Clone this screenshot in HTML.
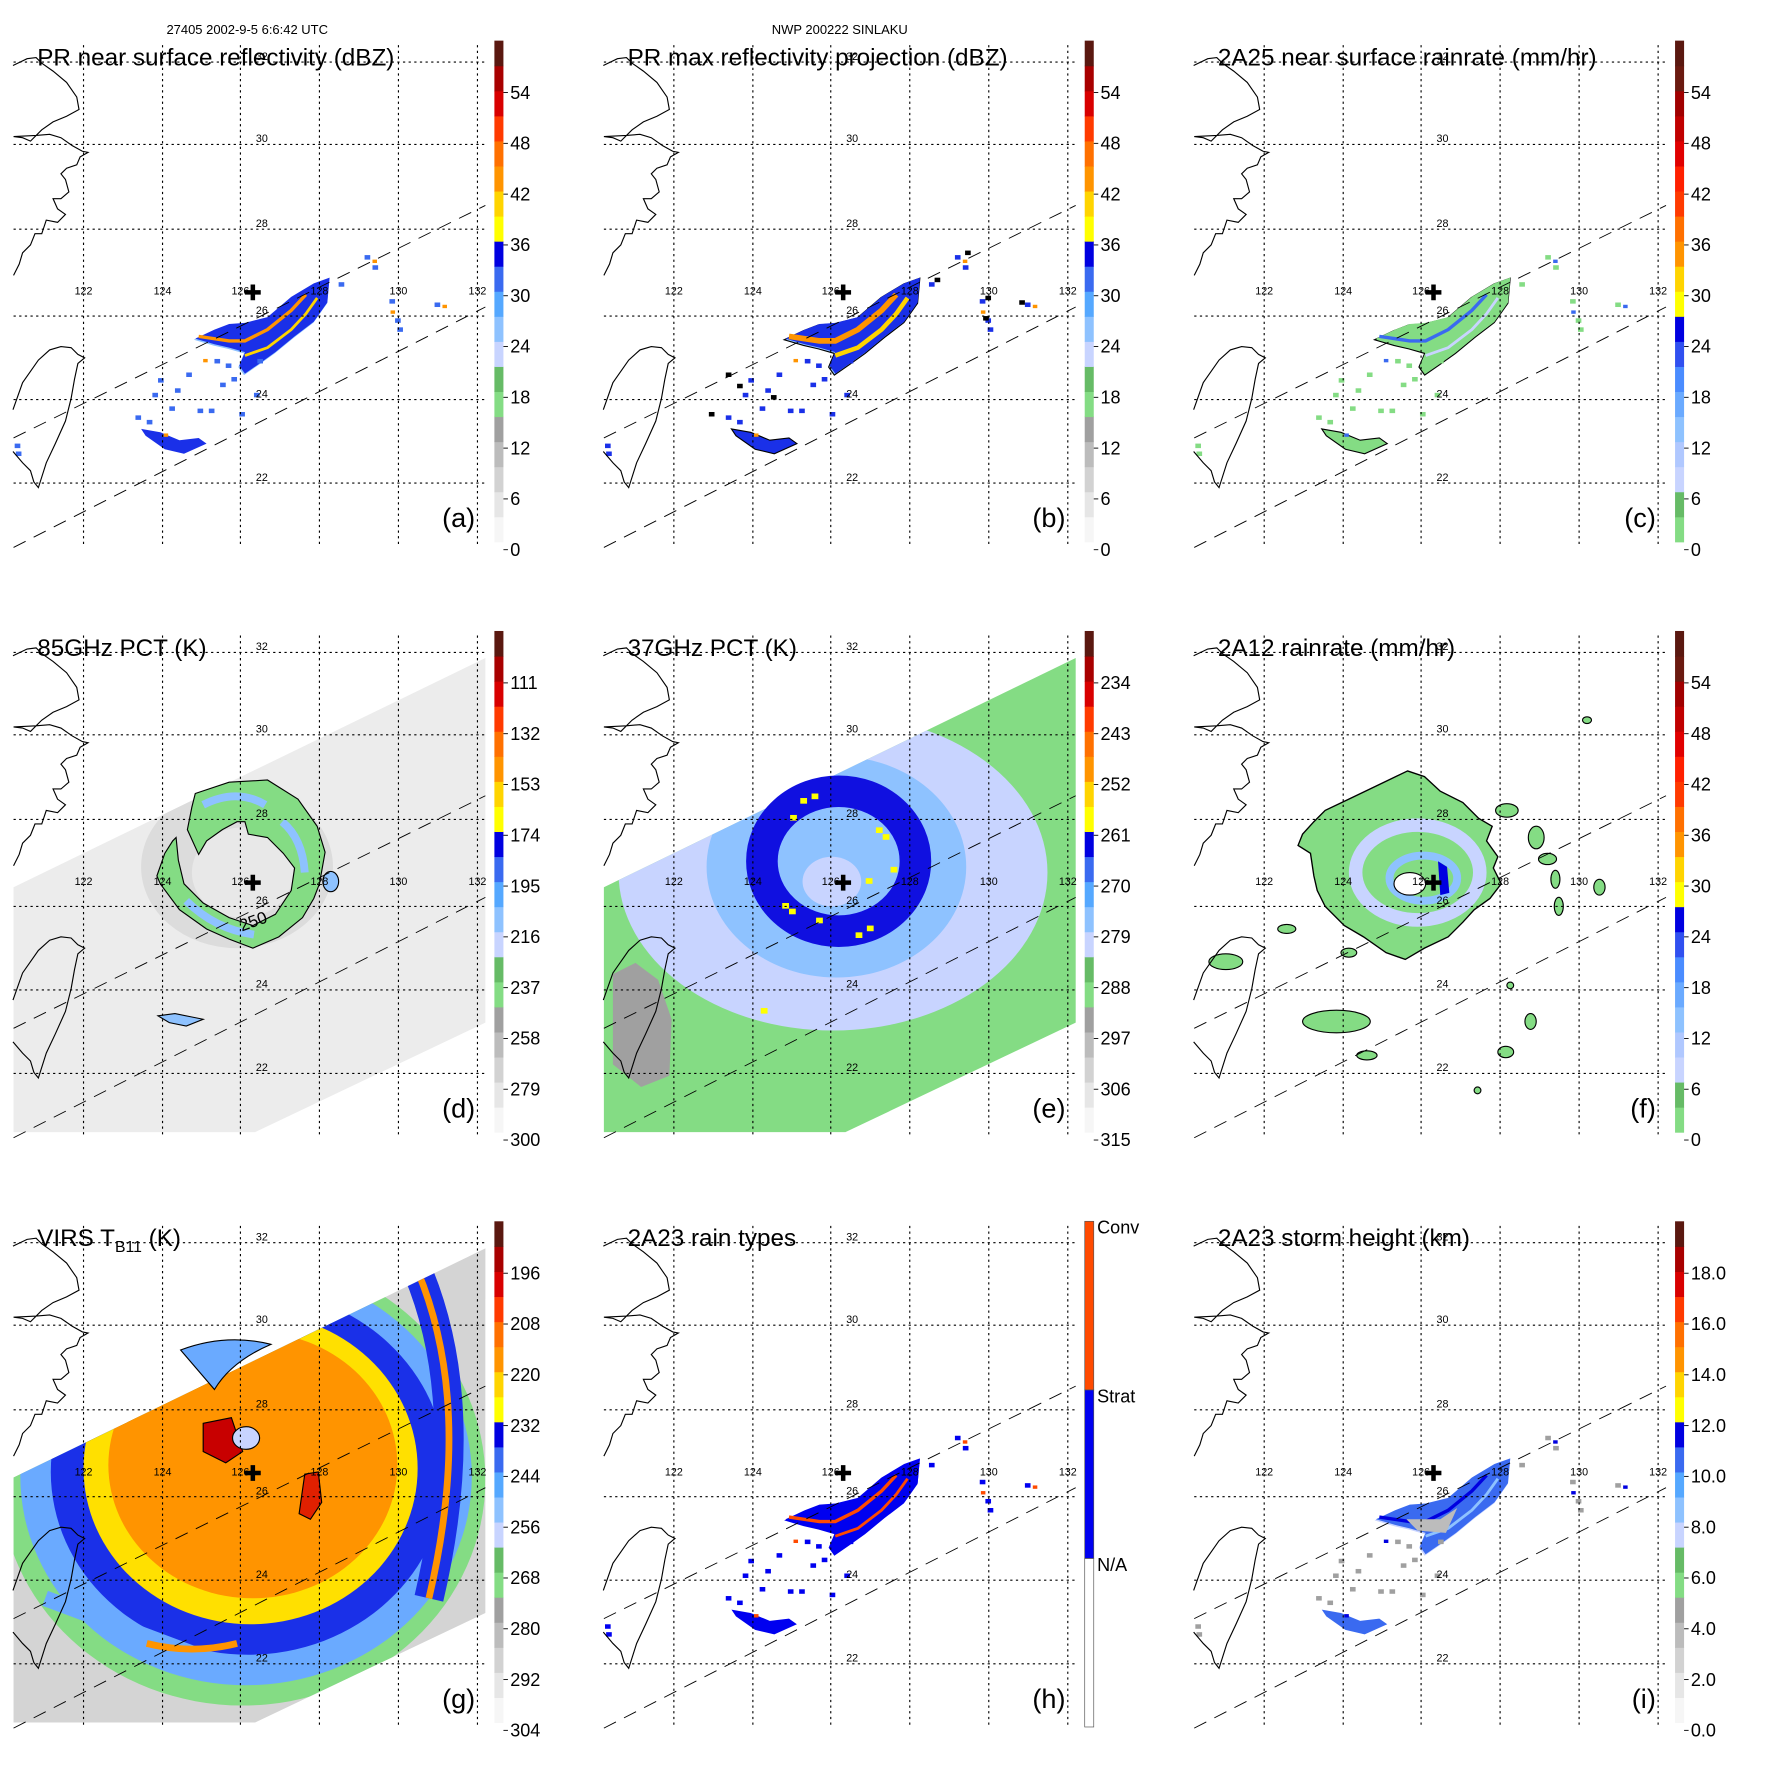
<!DOCTYPE html>
<html><head><meta charset="utf-8"><title>SINLAKU TRMM panels</title>
<style>html,body{margin:0;padding:0;background:#fff}svg{display:block}text{font-family:"Liberation Sans",sans-serif}</style>
</head><body>
<svg id="fig" xmlns="http://www.w3.org/2000/svg" width="1771" height="1771" viewBox="0 0 1569 1569">
<rect x="0" y="0" width="1569" height="1569" fill="#fff"/>
<defs><clipPath id="swclip"><path d="M12,263 L430,60 L430,383 L226,480 L12,480 Z"/></clipPath></defs>
<text x="219" y="30" font-size="11.5" text-anchor="middle">27405 2002-9-5 6:6:42 UTC</text>
<text x="744" y="30" font-size="11.5" text-anchor="middle">NWP 200222 SINLAKU</text>
</svg>
<script>
// ---- colorbar data ----
const paletteStd = ['#f6f6f6','#e6e6e6','#d2d2d2','#bcbcbc','#a0a0a0','#84dc84','#66bb66','#c8d4ff','#8ec2ff','#55a8ff','#3a6af0','#0000e0','#ffff00','#ffd400','#ff9400','#ff7000','#ff3a00','#d80000','#a80000','#5a1810'];
const paletteRain = ['#84dc84','#66bb66','#c8d4ff','#b0c8ff','#8ec2ff','#6aaaff','#4a8cff','#3050f0','#0000e0','#ffff00','#ffd400','#ff9400','#ff7000','#ff3a00','#ff2000','#e00000','#c00000','#a00000','#6a1a10','#5a1810'];
const ticksA = ['0','6','12','18','24','30','36','42','48','54'];
const ticksD = ['300','279','258','237','216','195','174','153','132','111'];
const ticksE = ['315','306','297','288','279','270','261','252','243','234'];
const ticksG = ['304','292','280','268','256','244','232','220','208','196'];
const ticksI = ['0.0','2.0','4.0','6.0','8.0','10.0','12.0','14.0','16.0','18.0'];
const rainTypeLabels = ['N/A','Strat','Conv'];
const rainTypeColors = ['#ffffff','#0000f0','#ff4a00'];
const lonLabels = ['122','124','126','128','130','132'];
const latLabels = ['32','30','28','26','24','22'];
</script>
<script>
const NS='http://www.w3.org/2000/svg';
const fig=document.getElementById('fig');
function mk(tag,attrs,parent){const e=document.createElementNS(NS,tag);for(const k in attrs)e.setAttribute(k,attrs[k]);(parent||fig).appendChild(e);return e;}
const lonX=[74,144,213,283,353,423];
const latY=[55,128,203,280,354,428];
const CHINA='M11.5,58 L24,52 L32,51 L37,56 L47,63 L59,73 L68,86 L70,97 L59,103 L47,108 L37,115 L27,125 L20,122 L12,121 M12,121 L32,120 L44,119 L54,122 L64,129 L73,134 L78,135 L71,139 L68,146 L59,149 L54,154 L58,159 L61,170 L54,176 L47,176 L51,185 L58,190 L51,197 L41,195 L37,207 L31,207 L27,217 L20,224 L17,234 L12,244';
const TAIWAN='M11.5,363 L20,339 L34,319 L44,310 L54,307 L63,308 L69,314 L75,317 L69,322 L66,336 L63,353 L58,373 L49,393 L41,410 L34,432 L30,427 L27,417 L20,410 L11.5,400';
const SWATH='M12,263 L430,60 L430,383 L226,480 L12,480 Z';
const BAND='M173,300 L190,292 L203,287 L217,286 L237,281 L258,263 L278,251 L292,246 L290,268 L278,285 L261,298 L244,312 L230,322 L217,331 L212,324 L217,312 L203,308 L190,305 Z';
const LOWER='M125,380 L142,383 L159,390 L176,388 L183,393 L163,402 L146,398 L129,386 Z';
const STRIPE1='M176,298 L203,302 L217,302 L237,292 L258,275 L271,261';
const STRIPE2='M217,315 L237,308 L258,292 L271,278 L281,264';
const SPIRAL='M173,180 L203,170 L237,168 L264,185 L281,209 L288,232 L283,260 L278,273 L268,290 L247,307 L224,317 L203,309 L183,300 L159,283 L142,260 L139,253 L146,233 L153,222 L156,219 L158,239 L163,260 L180,277 L203,290 L224,297 L244,287 L258,266 L261,246 L251,233 L237,219 L220,216 L217,205 L210,205 L197,212 L183,222 L176,234 L166,212 L170,192 Z';
const FBLOB='M201,160 L216,165 L230,178 L250,188 L264,202 L276,209 L271,222 L281,236 L277,246 L284,260 L274,273 L260,283 L250,294 L237,307 L216,317 L199,327 L182,321 L162,307 L145,297 L128,280 L121,266 L118,253 L115,233 L104,226 L108,216 L118,205 L128,195 L149,185 L176,172 Z';

const panels=[
 {id:'a',title:'PR near surface reflectivity (dBZ)',ticks:ticksA,pal:paletteStd},
 {id:'b',title:'PR max reflectivity projection (dBZ)',ticks:ticksA,pal:paletteStd},
 {id:'c',title:'2A25 near surface rainrate (mm/hr)',ticks:ticksA,pal:paletteRain},
 {id:'d',title:'85GHz PCT (K)',ticks:ticksD,pal:paletteStd},
 {id:'e',title:'37GHz PCT (K)',ticks:ticksE,pal:paletteStd},
 {id:'f',title:'2A12 rainrate (mm/hr)',ticks:ticksA,pal:paletteRain},
 {id:'g',title:'VIRS T',ticks:ticksG,pal:paletteStd},
 {id:'h',title:'2A23 rain types',ticks:null,pal:null},
 {id:'i',title:'2A23 storm height (km)',ticks:ticksI,pal:paletteStd}
];

function dots(g,list,color,w,h){list.forEach(p=>{const r=mk('rect',{x:p[0],y:p[1],width:w||4,height:h||3,fill:color},g);});}

function drawData(id,g){
 let e;
 if(id==='a'||id==='b'||id==='c'||id==='h'||id==='i'){
  const fills={a:['#8ec2ff','#1a30e8'],b:['#8ec2ff','#1a30e8'],c:['#84dc84','#84dc84'],h:['#0000f0','#0000f0'],i:['#c8d4ff','#3a6af0']}[id];
  e=mk('path',{d:BAND,fill:fills[0],transform:'translate(-3,-2) scale(1.01)',stroke:(id==='b'||id==='c')?'#000':'none','stroke-width':1},g);
  
  e=mk('path',{d:BAND,fill:fills[1]},g);
  
  e=mk('path',{d:LOWER,fill:fills[1],stroke:(id==='b'||id==='c')?'#000':'none','stroke-width':1},g);
  
  const s1={a:'#ff9400',b:'#ff9400',c:'#3a6af0',h:'#ff4a00',i:'#0000e0'}[id];
  const s2={a:'#ffd400',b:'#ffd400',c:'#c8d4ff',h:'#ff4a00',i:'#8ec2ff'}[id];
  e=mk('path',{d:STRIPE1,fill:'none',stroke:s1,'stroke-width':id==='b'?5:3},g);
  
  e=mk('path',{d:STRIPE2,fill:'none',stroke:s2,'stroke-width':id==='b'?4:2.5},g);
  
  if(id==='i'){e=mk('path',{d:'M200,300 L230,300 L245,290 L235,312 L210,310Z',fill:'#bcbcbc'},g);}
  const sc={a:'#3a6af0',b:'#1a30e8',c:'#84dc84',h:'#0000f0',i:'#a0a0a0'}[id];
  dots(g,[[165,330],[190,318],[200,322],[228,318],[140,335],[135,348],[150,360],[175,362],[185,362],[120,368],[130,372],[155,344],[195,339],[205,334],[330,235],[345,265],[350,282],[352,290],[385,268],[300,250],[323,226],[13,393],[14,400],[225,348],[212,365]],sc,5,4);
  dots(g,[[330,230],[346,275],[392,270],[180,318],[145,384]],s1,4,3);
  if(id==='b'){dots(g,[[332,222],[350,262],[348,280],[380,266],[305,246],[120,330],[130,340],[160,350],[105,365]],'#000',5,4);}
 }
 if(id==='d'||id==='e'||id==='g'){
  const bg={d:'#ececec',e:'#84dc84',g:'#d4d4d4'}[id];
  e=mk('path',{d:SWATH,fill:bg},g);
 }
 if(id==='d'){
  e=mk('ellipse',{cx:210,cy:245,rx:85,ry:72,fill:'#dcdcdc','clip-path':'url(#swclip)'},g);
  e=mk('ellipse',{cx:215,cy:250,rx:45,ry:40,fill:'#e8e8e8'},g);
  e=mk('path',{d:SPIRAL,fill:'#84dc84',stroke:'#000','stroke-width':1},g);
  e=mk('path',{d:'M180,190 Q210,175 235,190 M250,205 Q268,220 270,250 M165,275 Q190,300 225,305',fill:'none',stroke:'#8ec2ff','stroke-width':7},g);
  e=mk('path',{d:'M140,377 L155,375 L170,378 L180,380 L165,386 L150,383Z',fill:'#8ec2ff',stroke:'#000','stroke-width':1},g);
  e=mk('ellipse',{cx:293,cy:258,rx:7,ry:9,fill:'#8ec2ff',stroke:'#000','stroke-width':1},g);
  e=mk('text',{x:226,y:298,'font-size':15,transform:'rotate(-20 226 298)','text-anchor':'middle'},g);e.textContent='250';
 }
 if(id==='e'){
  e=mk('ellipse',{cx:215,cy:250,rx:190,ry:140,fill:'#c8d4ff','clip-path':'url(#swclip)'},g);
  e=mk('ellipse',{cx:218,cy:245,rx:115,ry:98,fill:'#8ec2ff','clip-path':'url(#swclip)'},g);
  e=mk('ellipse',{cx:220,cy:240,rx:68,ry:62,fill:'none',stroke:'#1010e0','stroke-width':28},g);
  e=mk('ellipse',{cx:214,cy:258,rx:26,ry:22,fill:'#c8d4ff'},g);
  e=mk('path',{d:'M20,340 L40,330 L60,345 L72,380 L70,430 L45,440 L20,420Z',fill:'#a0a0a0','clip-path':'url(#swclip)'},g);
  dots(g,[[186,184],[196,180],[177,199],[253,210],[259,216],[170,277],[176,282],[200,290],[245,297],[235,303],[266,245],[244,255],[151,370]],'#ffff00',6,5);
 }
 if(id==='f'){
  e=mk('path',{d:FBLOB,fill:'#84dc84',stroke:'#000','stroke-width':1.2},g);
  e=mk('ellipse',{cx:210,cy:250,rx:55,ry:42,fill:'none',stroke:'#c8d4ff','stroke-width':12},g);
  e=mk('ellipse',{cx:215,cy:255,rx:30,ry:20,fill:'none',stroke:'#8ec2ff','stroke-width':7},g);
  e=mk('path',{d:'M228,240 L236,245 L238,268 L230,270Z',fill:'#0000e0'},g);
  e=mk('ellipse',{cx:203,cy:260,rx:14,ry:10,fill:'#fff',stroke:'#000','stroke-width':1},g);
  [[289,195,10,6],[315,219,7,10],[325,238,8,5],[332,256,4,8],[335,280,4,8],[371,263,5,7],[40,329,15,7],[138,382,30,10],[165,412,9,4],[310,382,5,7],[288,409,7,5],[149,321,7,4],[94,300,8,4],[263,443,3,3],[360,115,4,3],[292,350,3,3]].forEach(b=>{e=mk('ellipse',{cx:b[0],cy:b[1],rx:b[2],ry:b[3],fill:'#84dc84',stroke:'#000','stroke-width':1},g);});
 }
 if(id==='g'){
  const rings=[[215,265,215,200,'#84dc84'],[218,262,200,185,'#6aaaff'],[220,258,175,162,'#1a30e8'],[222,255,148,138,'#ffe000'],[224,252,128,118,'#ff9400']];
  rings.forEach(r=>{e=mk('ellipse',{cx:r[0],cy:r[1],rx:r[2],ry:r[3],fill:r[4],'clip-path':'url(#swclip)'},g);});
  e=mk('path',{d:'M370,80 Q420,200 380,370',fill:'none',stroke:'#1a30e8','stroke-width':26,'clip-path':'url(#swclip)'},g);
  e=mk('path',{d:'M370,80 Q420,200 380,370',fill:'none',stroke:'#ff9400','stroke-width':6,'clip-path':'url(#swclip)'},g);
  e=mk('path',{d:'M160,150 Q200,135 240,145 Q205,160 190,185Z',fill:'#6aaaff',stroke:'#000','stroke-width':1},g);
  e=mk('path',{d:'M180,215 L205,210 L215,240 L200,250 L180,240Z',fill:'#c80000',stroke:'#000','stroke-width':1},g);
  e=mk('path',{d:'M270,260 L282,258 L285,285 L275,300 L265,295Z',fill:'#e02000',stroke:'#000','stroke-width':1},g);
  e=mk('ellipse',{cx:218,cy:228,rx:12,ry:10,fill:'#c8d4ff',stroke:'#000','stroke-width':1},g);
  e=mk('path',{d:'M40,370 Q120,400 200,430',fill:'none',stroke:'#6aaaff','stroke-width':14,'clip-path':'url(#swclip)'},g);
  e=mk('path',{d:'M130,410 Q170,420 210,410',fill:'none',stroke:'#ff9400','stroke-width':6},g);
 }
}

panels.forEach((p,i)=>{
 const col=i%3,row=Math.floor(i/3);
 const g=mk('g',{transform:`translate(${col*523},${row*523})`});
 
 
 drawData(p.id,g);
 let e;
 lonX.forEach(x=>{e=mk('line',{x1:x,y1:40,x2:x,y2:485,stroke:'#000','stroke-width':1,'stroke-dasharray':'2,3'},g);});
 latY.forEach(y=>{e=mk('line',{x1:12,y1:y,x2:430,y2:y,stroke:'#000','stroke-width':1,'stroke-dasharray':'2,3'},g);});
 e=mk('path',{d:'M12,388 L430,182 M12,485 L430,272',stroke:'#000','stroke-width':0.8,'stroke-dasharray':'12,8',fill:'none'},g);
 
 e=mk('path',{d:CHINA,fill:'none',stroke:'#000','stroke-width':1},g);
 e=mk('path',{d:TAIWAN,fill:'none',stroke:'#000','stroke-width':1},g);
 lonLabels.forEach((t,k)=>{e=mk('text',{x:lonX[k],y:261,'font-size':9.5,'text-anchor':'middle'},g);e.textContent=t;});
 latLabels.forEach((t,k)=>{e=mk('text',{x:232,y:latY[k]-2,'font-size':9.5,'text-anchor':'middle'},g);e.textContent=t;});
 e=mk('path',{d:'M217,257 h14 v4 h-14z M222,252 h4 v14 h-4z',fill:'#000'},g);
 e=mk('text',{x:33,y:58,'font-size':21.5},g);
 if(p.id==='g'){e.textContent='VIRS T';const s=mk('tspan',{'font-size':14,dy:5},e);s.textContent='B11';const s2=mk('tspan',{dy:-5},e);s2.textContent=' (K)';}else{e.textContent=p.title;}
 e=mk('text',{x:421,y:467,'font-size':24,'text-anchor':'end'},g);e.textContent='('+p.id+')';
 const cb=mk('g',{},g);
 if(p.pal){
  const n=p.pal.length,top=36,bot=480,h=(bot-top)/n;
  p.pal.forEach((c,k)=>{e=mk('rect',{x:438,y:bot-(k+1)*h,width:8,height:h+0.5,fill:c},cb);});
  p.ticks.forEach((t,k)=>{const y=487-45*k;e=mk('line',{x1:446,y1:y,x2:450,y2:y,stroke:'#000','stroke-width':0.8},cb);
   e=mk('text',{x:452,y:y+5.5,'font-size':16},cb);e.textContent=t;});
 } else {
  const top=36,bot=484,h=(bot-top)/3;
  rainTypeColors.forEach((c,k)=>{e=mk('rect',{x:438,y:bot-(k+1)*h,width:8,height:h,fill:c,stroke:'#555','stroke-width':0.6},cb);});
  rainTypeLabels.forEach((t,k)=>{e=mk('text',{x:449,y:bot-(k+1)*h+11,'font-size':16},cb);e.textContent=t;});
 }
});
</script>
</body></html>
